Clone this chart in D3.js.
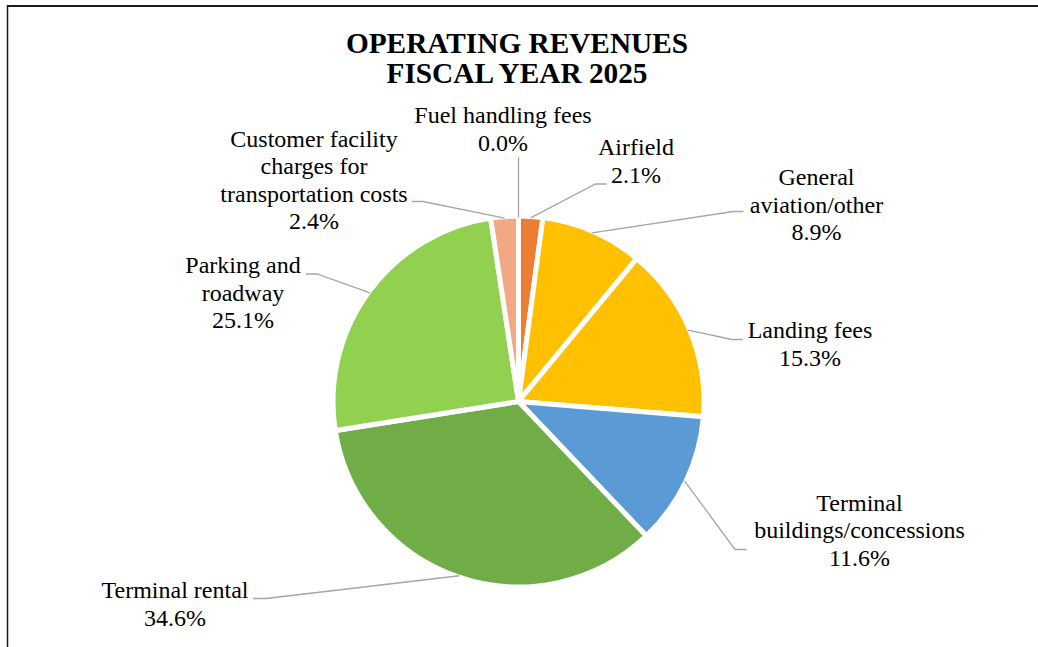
<!DOCTYPE html>
<html>
<head>
<meta charset="utf-8">
<script src="https://cdn.jsdelivr.net/npm/d3@7"></script>
<style>
  html, body { margin: 0; padding: 0; background: #fff; }
  svg { display: block; }
</style>
</head>
<body>
<svg id="chart" width="1038" height="647"></svg>
<script>
// ---- data ----
const titleLines = ["OPERATING REVENUES", "FISCAL YEAR 2025"];
const categories = [
  "Fuel handling fees",
  "Airfield",
  "General aviation/other",
  "Landing fees",
  "Terminal buildings/concessions",
  "Terminal rental",
  "Parking and roadway",
  "Customer facility charges for transportation costs"
];
const shares = [0.0, 2.1, 8.9, 15.3, 11.6, 34.6, 25.1, 2.4];
const sliceColors = ["#A5A5A5", "#ED7D31", "#FFC000", "#FFC000", "#5B9BD5", "#70AD47", "#92D050", "#F1A985"];
const labelLines = [
  ["Fuel handling fees"],
  ["Airfield"],
  ["General", "aviation/other"],
  ["Landing fees"],
  ["Terminal", "buildings/concessions"],
  ["Terminal rental"],
  ["Parking and", "roadway"],
  ["Customer facility", "charges for", "transportation costs"]
];

// ---- layout (label anchors and leader attachment points) ----
const labelLayout = [
  { x: 503, y: 123,   ex: 518.5, ey: 157,   elbow: 0 },
  { x: 636, y: 155,   ex: 606.5, ey: 184,   elbow: -11 },
  { x: 816.5, y: 185, ex: 743.5, ey: 211.5, elbow: -10 },
  { x: 810, y: 338,   ex: 743,   ey: 339.5, elbow: -11 },
  { x: 859.5, y: 510.5, ex: 746.5, ey: 549.5, elbow: -11.5 },
  { x: 175, y: 598,   ex: 253,   ey: 598.5, elbow: 13 },
  { x: 243, y: 273,   ex: 306,   ey: 274,   elbow: 11 },
  { x: 314, y: 146.5, ex: 412,   ey: 201.5, elbow: 11 }
];

const FONT = "Liberation Serif";
const W = 1038, H = 647;
const cx = 518.5, cy = 401.5, R = 185.5;
const svg = d3.select("#chart");

// frame
svg.append("line").attr("x1", 7).attr("x2", W).attr("y1", 6).attr("y2", 6)
  .attr("stroke", "#1a1a1a").attr("stroke-width", 2);
svg.append("line").attr("x1", 7.5).attr("x2", 7.5).attr("y1", 5).attr("y2", H)
  .attr("stroke", "#1a1a1a").attr("stroke-width", 1.5);

// title
const title = svg.append("text").attr("text-anchor", "middle")
  .attr("font-family", FONT)
  .attr("font-weight", "bold").attr("font-size", "29.3px").attr("fill", "#000");
titleLines.forEach((t, i) => {
  title.append("tspan").attr("x", 517).attr("y", 53.3 + i * 30).text(t);
});

// pie
const pie = d3.pie().sort(null).value(d => d).startAngle(0).endAngle(2 * Math.PI);
const arcs = pie(shares);
const arc = d3.arc().innerRadius(0).outerRadius(R);
const edgeArc = d3.arc().innerRadius(184).outerRadius(184);

const g = svg.append("g").attr("transform", `translate(${cx},${cy})`);
g.selectAll("path.slice").data(arcs).join("path")
  .attr("class", "slice")
  .attr("d", arc)
  .attr("fill", (d, i) => sliceColors[i])
  .attr("stroke", "#fff")
  .attr("stroke-width", 5)
  .attr("stroke-linejoin", "miter");

// leader lines
arcs.forEach((d, i) => {
  const L = labelLayout[i];
  const [sx, sy] = edgeArc.centroid(d);
  const pts = [[sx + cx, sy + cy]];
  if (L.elbow !== 0) pts.push([L.ex + L.elbow, L.ey]);
  pts.push([L.ex, L.ey]);
  svg.append("path")
    .attr("d", d3.line()(pts))
    .attr("fill", "none")
    .attr("stroke", "#A6A6A6")
    .attr("stroke-width", 1.3);
});

// labels
arcs.forEach((d, i) => {
  const L = labelLayout[i];
  const lines = labelLines[i].concat([shares[i].toFixed(1) + "%"]);
  const t = svg.append("text").attr("text-anchor", "middle")
    .attr("font-family", FONT).attr("font-size", "24px").attr("fill", "#000");
  lines.forEach((s, j) => {
    t.append("tspan").attr("x", L.x).attr("y", L.y + j * 27.5).text(s);
  });
});
</script>
</body>
</html>
